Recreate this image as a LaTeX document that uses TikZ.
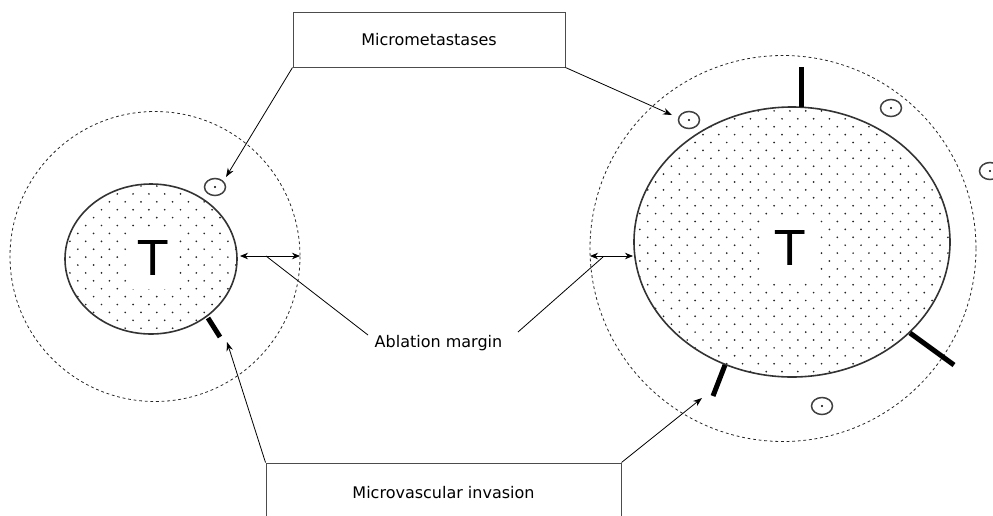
\documentclass[tikz,border=0pt]{standalone}
\usepackage{fontspec}
\setmainfont{DejaVu Sans}
\usetikzlibrary{arrows.meta}
\begin{document}
\begin{tikzpicture}[x=1pt,y=-1pt,
  labelbox/.style={draw=black!70, line width=1pt, rectangle, inner sep=0pt, font=\fontsize{16}{18}\selectfont},
  plain/.style={inner sep=1pt, font=\fontsize{16}{18}\selectfont},
  tlabel/.style={fill=white, inner sep=0pt, minimum width=50pt, minimum height=62pt, font=\fontsize{48}{48}\selectfont},
  tumor/.style={draw=black!80, line width=1.6pt},
  margin/.style={draw=black!85, line width=0.8pt, dash pattern=on 2.8pt off 2.8pt},
  meta/.style={draw=black!75, line width=1.5pt},
  vessel/.style={draw=black, line width=5pt},
  conn/.style={draw=black, line width=0.8pt},
  arr/.style={conn, -{Stealth[length=9pt,width=6.5pt]}},
  darr/.style={conn, {Stealth[length=8pt,width=6.5pt]}-{Stealth[length=8pt,width=6.5pt]}},
  dotc/.style={fill=black!85}]
\useasboundingbox (0,0) rectangle (993,515);
\clip (0,0) rectangle (993,515);

% ---------- ablation margins (dashed) ----------
\draw[margin] (155,256.5) circle [radius=145];
\draw[margin] (783,248.5) circle [radius=193];

% ---------- left tumour ----------
\begin{scope}
  \clip (151,259) ellipse [x radius=86, y radius=75];
  \foreach \j in {0,...,20}{
    \pgfmathsetmacro{\off}{mod(\j,2)*7.9}
    \foreach \i in {0,...,12}
      \fill[dotc] (62+\off+\i*15.8, 186+\j*7.9) circle [radius=0.95];
  }
\end{scope}
\node[tlabel] (T1) at (153,258) {T};
\draw[tumor] (151,259) ellipse [x radius=86, y radius=75];

% ---------- right tumour ----------
\begin{scope}
  \clip (792,242) ellipse [x radius=158, y radius=135];
  \foreach \j in {0,...,36}{
    \pgfmathsetmacro{\off}{mod(\j,2)*7.9}
    \foreach \i in {0,...,21}
      \fill[dotc] (624+\off+\i*15.8, 103+\j*7.9) circle [radius=0.95];
  }
\end{scope}
\node[tlabel] (T2) at (790,248) {T};
\draw[tumor] (792,242) ellipse [x radius=158, y radius=135];

% ---------- microvascular invasion (vessels) ----------
\draw[vessel] (208,318) -- (220,337);
\draw[vessel] (801,107) -- (801,67);
\draw[vessel] (910,333) -- (954,365);
\draw[vessel] (725,365) -- (713,396);

% ---------- micrometastases ----------
\foreach \x/\y in {215/187, 689/120, 891/108, 990/171, 822/406}{
  \draw[meta] (\x,\y) ellipse [x radius=10.5, y radius=8.5];
  \fill (\x,\y) circle [radius=1.1];
}

% ---------- label boxes ----------
\node[labelbox, minimum width=272pt, minimum height=55pt] (mm) at (429,39.5) {Micrometastases};
\node[labelbox, minimum width=355pt, minimum height=60pt] (mv) at (443.5,493) {Microvascular invasion};
\node[plain] (abl) at (438.5,343) {Ablation margin};

% ---------- named end points ----------
\coordinate (m1) at (226,177);
\coordinate (m2) at (672,115);
\coordinate (v1) at (227,342);
\coordinate (v2) at (702,398);
\coordinate (a1l) at (240,256);
\coordinate (a1r) at (300,256);
\coordinate (a2l) at (590,256);
\coordinate (a2r) at (633,256);
\coordinate (a1m) at (266,256);
\coordinate (a2m) at (603,257);
\coordinate (ablL) at (368,335);
\coordinate (ablR) at (518,332);

% ---------- connectors ----------
\draw[arr] (mm.south west) -- (m1);
\draw[arr] (mm.south east) -- (m2);
\draw[arr] (mv.north west) -- (v1);
\draw[arr] (mv.north east) -- (v2);
\draw[darr] (a1l) -- (a1r);
\draw[darr] (a2l) -- (a2r);
\draw[conn] (ablL) -- (a1m);
\draw[conn] (ablR) -- (a2m);
\end{tikzpicture}
\end{document}
